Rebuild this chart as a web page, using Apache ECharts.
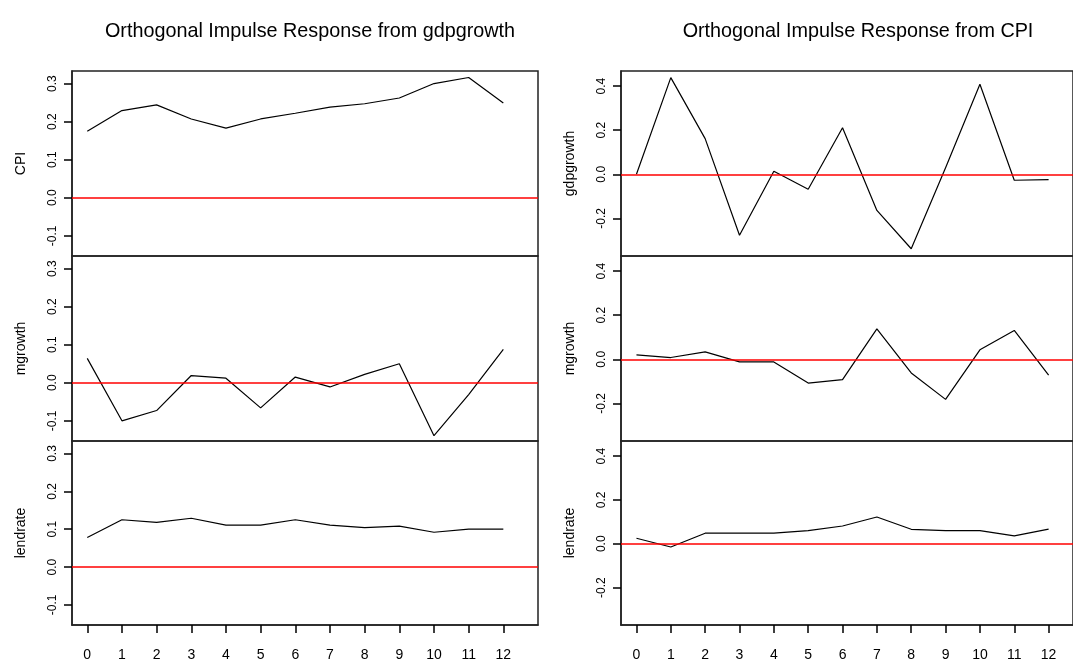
<!DOCTYPE html>
<html>
<head>
<meta charset="utf-8">
<script src="https://cdn.jsdelivr.net/npm/echarts@6/dist/echarts.min.js"></script>
<style>
  html, body { margin: 0; padding: 0; background: #fff; }
  #main { width: 1073px; height: 662px; }
</style>
</head>
<body>
<div id="main"></div>
<script>
// 横轴期数
const horizons = [0, 1, 2, 3, 4, 5, 6, 7, 8, 9, 10, 11, 12];

// gdpgrowth 冲击
const gdpToCpi      = [0.175, 0.229, 0.244, 0.207, 0.183, 0.207, 0.222, 0.238, 0.247, 0.262, 0.300, 0.316, 0.249];
const gdpToMgrowth  = [0.064, -0.100, -0.073, 0.019, 0.012, -0.066, 0.015, -0.011, 0.022, 0.050, -0.139, -0.031, 0.088];
const gdpToLendrate = [0.078, 0.125, 0.118, 0.129, 0.111, 0.111, 0.125, 0.111, 0.104, 0.108, 0.092, 0.100, 0.100];

// CPI 冲击
const cpiToGdp      = [0.000, 0.439, 0.162, -0.277, 0.014, -0.068, 0.211, -0.164, -0.338, 0.030, 0.409, -0.027, -0.024];
const cpiToMgrowth  = [0.020, 0.008, 0.034, -0.012, -0.012, -0.108, -0.092, 0.138, -0.062, -0.182, 0.043, 0.131, -0.072];
const cpiToLendrate = [0.025, -0.015, 0.048, 0.048, 0.048, 0.060, 0.081, 0.122, 0.066, 0.060, 0.060, 0.036, 0.067];

// 纵轴刻度
const leftTicks = [-0.1, 0.0, 0.1, 0.2, 0.3];
const rightTicks = [-0.2, 0.0, 0.2, 0.4];

const titles = ['Orthogonal Impulse Response from gdpgrowth', 'Orthogonal Impulse Response from CPI'];
const rowNames = [['CPI', 'mgrowth', 'lendrate'], ['gdpgrowth', 'mgrowth', 'lendrate']];
const panelData = [
  [gdpToCpi, gdpToMgrowth, gdpToLendrate],
  [cpiToGdp, cpiToMgrowth, cpiToLendrate]
];

const FONT = "'Liberation Sans', Arial, sans-serif";

const panels = [
  { left: 72, width: 466, xMin: -0.44, xMax: 13.0, yMin: -0.153, yMax: 0.333, ticks: leftTicks, cx: 305 },
  { left: 621, width: 462, xMin: -0.45, xMax: 12.71, yMin: -0.371, yMax: 0.469, ticks: rightTicks, cx: 853 }
];
const rowTops = [71, 256, 441];
const rowHeight = 185;

let grids = [], xAxes = [], yAxes = [], series = [];

panels.forEach(function (p, pi) {
  rowTops.forEach(function (top, ri) {
    const idx = grids.length;
    const isBottom = ri === rowTops.length - 1;
    grids.push({
      left: p.left, top: top, width: p.width, height: rowHeight,
      show: true, borderColor: '#222', borderWidth: 1.5
    });
    xAxes.push({
      type: 'value', gridIndex: idx, min: p.xMin, max: p.xMax,
      show: isBottom,
      axisLine: { onZero: false, lineStyle: { color: '#222', width: 1.5 } },
      splitLine: { show: false },
      axisTick: { customValues: horizons, length: 8, lineStyle: { color: '#000', width: 1.5 } },
      axisLabel: {
        customValues: horizons, margin: 23,
        fontFamily: FONT, fontSize: 14, color: '#000'
      }
    });
    yAxes.push({
      type: 'value', gridIndex: idx, min: p.yMin, max: p.yMax,
      name: rowNames[pi][ri], nameLocation: 'middle', nameRotate: 90, nameGap: 44,
      nameTextStyle: { fontFamily: FONT, fontSize: 14, color: '#000' },
      axisLine: { onZero: false, lineStyle: { color: '#222', width: 1.5 } },
      splitLine: { show: false },
      axisTick: { customValues: p.ticks, length: 8, lineStyle: { color: '#000', width: 1.5 } },
      axisLabel: {
        customValues: p.ticks, rotate: 90, margin: 13,
        fontFamily: FONT, fontSize: 12, color: '#000',
        formatter: function (v) { return v.toFixed(1); }
      }
    });
    series.push({
      type: 'line', xAxisIndex: idx, yAxisIndex: idx,
      data: horizons.map(function (h, k) { return [h, panelData[pi][ri][k]]; }),
      symbol: 'none', silent: true,
      lineStyle: { color: '#000', width: 1.2 },
      markLine: {
        silent: true, symbol: 'none', label: { show: false },
        lineStyle: { color: '#ff0000', width: 1.5, type: 'solid' },
        data: [{ yAxis: 0 }]
      }
    });
  });
});

const chart = echarts.init(document.getElementById('main'));
chart.setOption({
  animation: false,
  backgroundColor: '#fff',
  title: panels.map(function (p, pi) {
    return {
      text: titles[pi], left: p.cx, top: 17, textAlign: 'center',
      textStyle: { fontFamily: FONT, fontSize: 19.8, fontWeight: 'normal', color: '#000' }
    };
  }),
  grid: grids,
  xAxis: xAxes,
  yAxis: yAxes,
  series: series
});
</script>
</body>
</html>
